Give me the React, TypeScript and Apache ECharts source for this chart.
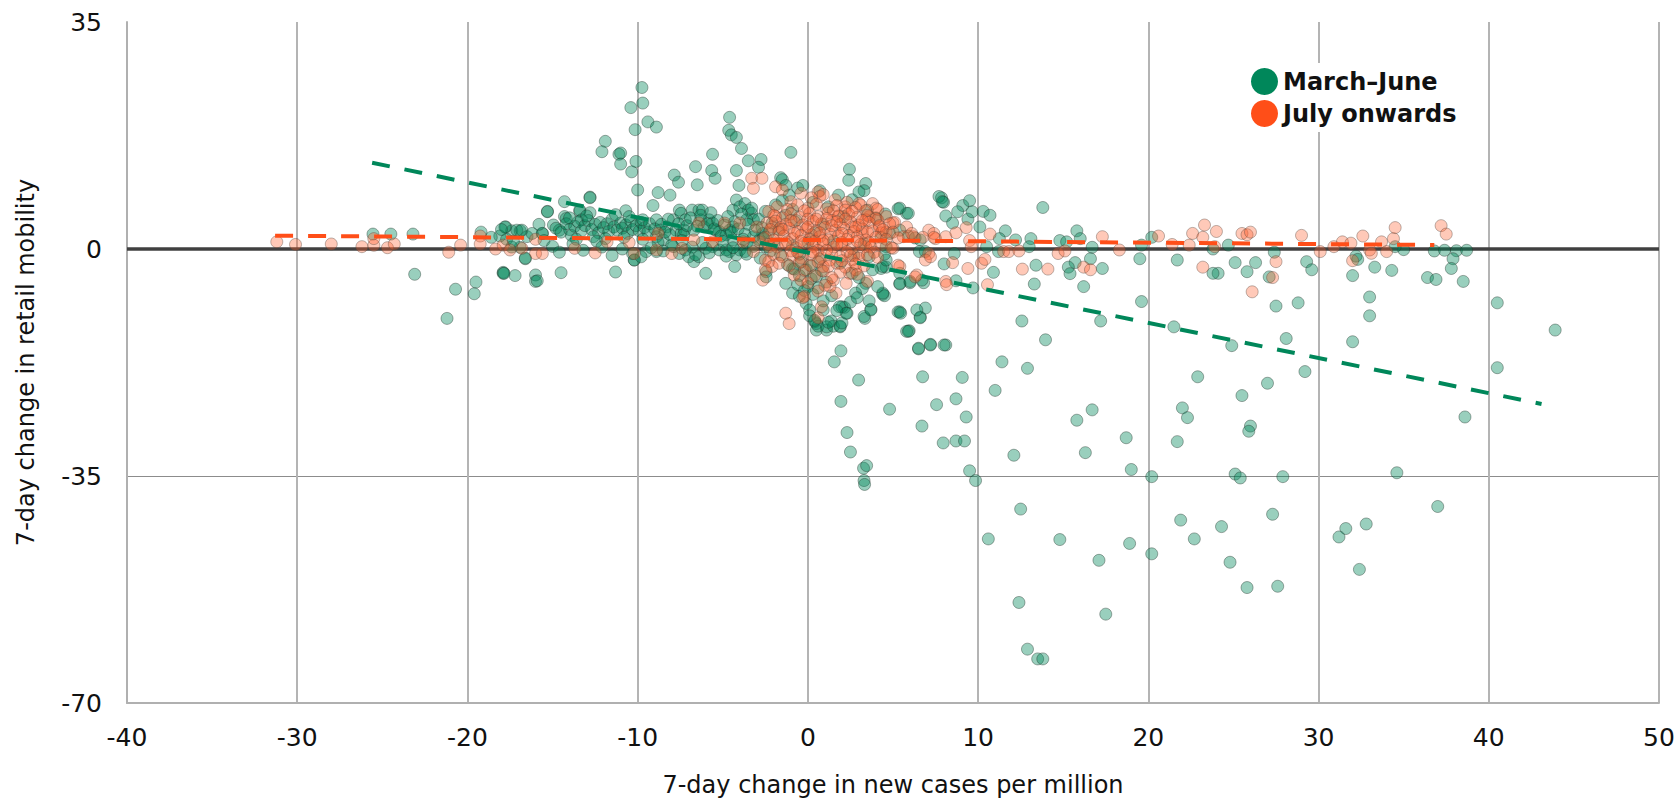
import React, { useEffect, useRef } from "react";
import * as echarts from "echarts";

// ---- Data -------------------------------------------------------------
const X_MIN = -40, X_MAX = 50, X_STEP = 10;
const Y_MIN = -70, Y_MAX = 35, Y_STEP = 35;
const SERIES_NAMES = ["March\u2013June", "July onwards"];
const X_NAME = "7-day change in new cases per million";
const Y_NAME = "7-day change in retail mobility";

// March–June points [x, y]
const GREEN_SPARSE: number[][] = [
  [12.57,-11.1],[13.96,-14.0],[17.2,-11.1],[19.6,-8.1],[21.5,-12.0],[24.9,-14.9],[27.5,-8.8],[11.4,-17.4],[12.9,-18.4],[11.0,-21.8],
  [22.9,-19.7],[27.0,-20.7],[25.5,-22.6],[22.0,-24.5],[22.3,-26.0],[26.0,-27.3],[25.9,-28.1],[21.7,-29.7],[18.7,-29.1],[16.7,-24.8],
  [15.8,-26.4],[16.3,-31.4],[12.1,-31.8],[19.0,-34.0],[20.2,-35.1],[25.1,-34.7],[25.4,-35.3],[27.9,-35.1],[9.5,-34.2],[9.85,-35.7],
  [12.5,-40.1],[10.6,-44.7],[14.8,-44.8],[18.9,-45.4],[17.1,-48.0],[20.2,-47.0],[21.9,-41.8],[22.7,-44.7],[24.3,-42.8],[27.3,-40.9],
  [24.8,-48.3],[25.8,-52.2],[27.6,-52.0],[12.4,-54.5],[17.5,-56.3],[12.9,-61.7],[13.5,-63.2],[13.8,-63.2],
  [1.94,-15.7],[1.55,-17.4],[2.98,-20.2],[1.94,-23.5],[4.8,-24.7],[2.3,-28.3],[2.5,-31.3],[3.27,-33.8],[3.45,-33.4],[3.3,-35.7],
  [3.33,-36.3],[6.7,-27.3],[7.95,-29.9],[8.7,-29.6],[9.2,-29.6],[9.3,-25.9],[8.7,-23.1],[7.56,-24.0],[6.74,-19.7],[9.07,-19.8],
  [6.5,-15.4],[7.2,-14.7],[8.1,-14.8],[5.95,-12.6],[6.6,-10.5],[6.9,-9.1],[5.3,-9.7],[3.7,-9.3],[3.35,-10.7],[2.15,-9.0],
  [2.3,-9.9],[1.9,-12.0],[1.1,-12.5],[0.5,-12.5],[1.37,-11.1],[0.4,-11.2],[0.9,-9.4],
  [28.8,-8.3],[33.0,-7.4],[33.0,-10.3],[32.0,-14.3],[28.1,-13.8],[29.2,-18.9],[40.5,-8.3],[43.9,-12.5],[40.5,-18.3],[38.6,-25.9],
  [34.6,-34.5],[37.0,-39.7],[32.8,-42.4],[31.6,-43.1],[31.2,-44.4],[32.4,-49.4],
  [26.3,-2.1],[27.4,-0.5],[27.1,-4.3],[29.3,-1.95],[29.6,-3.2],[32.2,-1.1],[32.3,-1.6],[32.0,-4.1],[33.3,-2.8],[34.3,-3.3],
  [35.0,-0.1],[34.5,0.36],[36.8,-0.3],[37.4,-0.2],[38.1,-0.26],[38.7,-0.2],[37.9,-1.5],[37.8,-3.0],[36.4,-4.4],[36.9,-4.7],[38.5,-5.0],
  [2.44,12.3],[3.4,10.1],[3.3,9.0],[5.3,6.2],[5.8,5.5],[7.85,7.9],[7.97,7.2],[9.1,6.7],[9.5,7.45],[8.8,5.75],
  [8.1,5.1],[9.4,4.6],[8.5,4.0],[9.65,5.75],[10.3,5.8],[10.7,5.2],[10.1,3.4],[11.6,2.8],[11.25,1.6],[12.2,1.4],
  [13.1,1.6],[13.0,0.36],[13.8,6.4],[15.8,2.8],[16.0,1.6],[14.8,1.3],[15.2,1.1],[16.7,0.26],[16.6,-1.5],[15.7,-2.1],
  [15.3,-2.8],[15.4,-3.8],[17.3,-3.0],[16.2,-5.8],[19.5,-1.5],[19.6,0.6],[20.2,1.8],[21.7,-1.7],[23.8,0.0],[24.1,-3.75],
  [23.8,-3.75],[25.1,-2.1],[25.8,-3.5],[24.7,0.6],[8.0,-2.3],[8.7,-4.9],[8.6,-0.7],[6.55,-0.4],[6.8,-5.2],[6.0,-5.2],
  [5.4,-5.4],[5.4,-9.7],[5.45,-9.9],[6.6,-10.6],[5.8,-12.7],[9.7,-6.0],[10.9,-3.6],[10.5,0.36],[11.2,-0.4],[13.4,-2.5],
  [13.3,-5.4],[4.55,5.4],[4.6,-2.8],[4.3,-3.0],[4.4,-7.0],[4.5,-7.2],[2.0,-8.9],
  [-25.55,2.3],[-24.5,2.3],[-23.2,2.3],[-23.1,-3.9],[-20.7,-6.2],[-19.5,-5.1],[-19.6,-6.9],[-21.2,-10.7],[-17.9,-3.6],[-17.2,-4.1],
  [-18.1,2.0],[-17.75,3.4],[-17.4,2.8],[-16.9,2.8],[-16.5,1.9],[-16.6,-1.5],[-16.0,-4.0],[-16.0,-5.0],[-16.9,0.26],
  [-14.5,-3.65],[-11.3,-3.55],[-10.2,-1.7],
];

const GREEN_UPPER: number[][] = [
  [-9.75,24.9],[-9.7,22.5],[-10.4,21.8],[-10.15,18.4],[-9.4,19.6],[-8.9,18.8],[-11.9,16.6],[-12.1,15.0],[-11.1,14.6],[-11.0,14.8],
  [-11.0,13.1],[-10.35,11.9],[-10.1,13.5],[-10.0,9.1],[-8.8,8.7],[-9.1,6.7],[-8.1,8.3],[-7.85,11.4],[-7.6,10.3],[-6.6,12.7],
  [-6.5,9.9],[-5.6,14.6],[-5.65,12.1],[-5.45,10.9],[-4.6,20.3],[-4.65,18.3],[-4.5,17.6],[-4.2,17.2],[-3.9,15.5],[-3.5,13.6],
  [-2.75,13.8],[-2.9,12.6],[-4.2,12.1],[-4.05,9.8],[-1.0,14.9],[-1.6,11.0],[-1.5,10.7],[-1.3,9.8],[-0.6,9.4],
  [-12.8,8.0],[-14.3,7.3],[-15.3,5.8],[-14.3,5.0],[-14.95,3.7],[-15.6,2.4],[-13.4,5.8],[-12.8,5.6],[-10.7,5.9],
  [-17.8,3.4],[-17.1,2.9],[-16.8,2.9],[-17.7,1.5],[-17.4,0.3],[-16.6,-1.4],[-17.9,-3.75],[-15.6,2.4],[-15.3,5.75],[-14.6,2.9],
  [-14.2,4.7],[-14.0,3.0],[-13.4,6.0],[-13.3,4.5],[-12.8,7.9],
];

const GREEN_DENSE: number[][] = [
  [-14.8,3.2],[-14.5,2.6],[-14.2,3.9],[-13.9,2.1],[-13.7,3.5],[-13.5,4.2],[-13.3,2.8],[-13.1,3.6],[-12.9,4.4],[-12.7,3.0],
  [-12.5,3.8],[-12.3,2.5],[-12.2,4.1],[-12.0,3.3],[-11.8,3.9],[-11.7,2.7],[-11.5,4.6],[-11.4,3.4],[-11.2,2.9],[-11.0,4.0],
  [-10.9,3.2],[-10.7,3.7],[-10.6,2.4],[-10.4,4.3],[-10.3,3.0],[-10.1,3.6],[-9.9,2.8],[-9.8,4.1],[-9.6,3.3],[-9.4,2.6],
  [-12.6,1.9],[-11.9,1.6],[-13.0,5.1],[-11.3,5.3],[-10.5,5.0],[-14.0,4.8],[-12.4,1.2],[-10.8,1.8],[-9.7,1.5],[-13.6,1.5],
  [-9.7,4.5],[-9.3,3.9],[-8.9,4.5],[-8.7,2.9],[-8.3,3.4],[-7.9,4.5],[-7.75,2.9],[-7.45,2.4],[-7.25,2.9],[-8.9,1.9],
  [-8.5,1.4],[-8.1,2.2],[-7.55,6.0],[-7.45,5.5],[-7.2,4.5],[-6.8,6.0],[-6.4,6.0],[-6.2,6.0],[-6.3,4.5],[-6.1,3.4],
  [-5.8,4.5],[-5.6,4.0],[-5.4,2.9],[-5.2,2.7],[-5.6,0.36],[-5.2,-0.15],[-7.9,0.36],[-7.55,-0.7],[-7.2,-0.15],[-7.0,-1.2],
  [-6.7,-1.95],[-6.4,-1.2],[-6.0,0.1],[-8.9,-0.4],[-9.5,-0.4],[-10.2,-1.7],[-10.3,-0.7],[-4.4,6.0],[-4.2,7.55],[-4.0,6.5],
  [-3.7,7.0],[-3.5,6.0],[-3.3,5.5],[-3.2,4.5],[-3.6,4.5],[-4.4,3.4],[-4.6,2.9],[-4.8,2.2],[-4.4,1.4],[-4.0,-0.15],
  [-3.7,-0.4],[-3.6,0.9],[-3.2,1.9],[-2.85,1.4],[-2.65,2.4],[-2.5,0.36],[-4.6,-0.4],[-4.2,-0.9],[-4.3,-2.7],[-4.8,-0.15],
  [-6.0,-3.75],
  [-9.0,3.1],[-8.6,3.8],[-8.4,2.6],[-8.2,4.6],[-7.6,3.9],[-7.3,2.2],[-7.1,3.6],[-6.9,4.8],[-6.7,2.9],[-6.5,3.5],
  [-6.3,5.2],[-5.9,3.9],[-5.7,5.6],[-5.5,3.1],[-5.3,4.4],[-5.1,2.0],[-4.9,3.7],[-4.7,5.0],[-4.5,2.6],[-4.3,4.2],
  [-4.1,3.1],[-3.9,5.4],[-3.7,2.3],[-3.5,3.8],[-3.3,6.3],[-3.1,2.9],[-2.9,4.6],[-2.7,3.3],[-2.5,5.8],[-2.3,2.5],
  [-2.1,4.0],[-1.9,6.8],[-1.7,3.0],[-1.5,7.5],[-1.3,5.2],[-1.1,8.3],[-0.9,6.1],[-0.7,4.4],[-8.8,1.0],[-8.0,0.6],
  [-7.4,1.3],[-6.8,0.3],[-6.2,1.0],[-5.0,1.2],[-4.4,0.2],[-3.8,1.5],[-3.2,0.4],[-2.6,1.7],[-2.0,0.8],[-9.2,0.2],
  [-8.5,-0.3],[-6.6,-0.9],[-5.8,-0.6],[-4.8,-1.1],[-3.6,-0.8],[-2.8,-1.4],[-2.2,-0.3],[-1.6,-0.9],
  [-2.45,-3.5],[-2.45,-4.3],[-1.3,-5.3],[-0.9,-3.0],[-0.5,-4.1],[-0.1,-3.2],[0.2,-4.6],[0.0,-5.8],[-0.9,-6.8],[-0.5,-7.3],
  [-0.1,-8.4],[0.1,-9.4],[0.5,-11.5],[0.6,-11.9],[1.1,-12.0],[1.5,-11.9],[1.9,-11.9],[2.0,-11.4],[1.85,-8.9],[2.25,-9.9],
  [3.3,-10.4],[3.7,-9.4],[4.4,-6.8],[5.4,-3.75],[5.4,-5.3],[6.0,-5.0],[6.7,-4.8],[6.4,-9.4],[5.9,-12.7],[6.5,-15.3],
  [7.2,-14.8],[8.0,-14.8],[4.4,-2.7],[4.6,-1.7],[3.4,-5.3],[3.2,-6.1],[2.6,-3.75],[2.8,-6.8],[3.6,-1.2],[4.6,0.36],
  [4.8,2.4],[5.4,2.9],[5.9,2.0],[6.3,1.7],[6.6,1.4],[6.9,-0.4],[5.4,6.3],[5.9,5.5],[7.7,8.1],[7.9,7.3],
  [-1.2,-2.4],[-0.8,-3.1],[-0.4,-2.0],[0.2,-2.6],[0.5,-4.2],[0.8,-3.3],[1.1,-5.1],[-0.6,-5.5],[-0.2,-6.4],[0.3,-7.0],
  [0.6,-6.0],[0.9,-8.0],[1.4,-7.2],[1.7,-9.5],[0.1,-10.3],[0.4,-11.0],[1.2,-11.3],[2.5,-8.2],[2.9,-7.5],[3.6,-8.0],
  [3.0,-4.4],[3.8,-3.2],[4.1,-5.8],[0.0,1.0],[0.4,2.5],[0.9,3.8],[1.5,1.2],[2.1,5.0],[2.6,7.6],[3.0,8.8],
  [3.5,6.0],[4.0,4.8],[1.2,6.5],[0.3,7.2],[-0.3,9.8],[0.7,9.0],[1.8,8.3],[2.4,10.6],[-0.9,0.5],[-0.5,-0.8],
  [0.7,-1.5],[1.9,-2.2],[2.7,-1.0],[3.3,0.8],[4.3,1.8],[4.5,-0.8],
  [-19.2,2.6],[-18.6,1.8],[-18.0,3.0],[-17.3,1.2],[-16.2,2.4],[-15.8,3.8],[-15.5,1.3],[-15.0,0.4],[-14.6,-0.5],[-13.2,-0.2],
  [-12.1,0.3],[-11.5,-1.0],[-10.9,0.0],[-9.8,-1.2],[-13.8,0.8],[-17.85,-3.75],[-15.9,-4.9],
];

// July onwards points [x, y]
const ORANGE_SPARSE: number[][] = [
  [-31.2,1.1],[-30.1,0.7],[-28.0,0.77],[-26.2,0.36],[-25.5,0.57],[-25.5,1.6],[-24.7,0.2],[-24.3,0.77],[-21.1,-0.5],[-20.4,0.6],
  [-19.25,2.0],[-19.25,0.77],[-18.35,0.0],[-17.9,0.6],[-17.5,-0.15],[-16.8,0.1],[-16.0,1.5],[-16.0,-0.7],
  [-15.6,-0.7],[-13.7,0.1],[-12.5,-0.6],[-11.8,1.1],[-10.5,1.0],[-10.2,-0.7],[-8.8,2.4],[-8.9,-0.15],[-8.0,-0.7],[-7.4,0.1],
  [-6.7,1.4],[-6.4,4.0],[-5.6,1.1],[-4.9,4.0],[-4.0,4.0],[-3.8,1.1],[-3.2,-0.4],[-3.0,3.4],[-2.85,1.1],[-2.3,0.36],
  [-2.1,3.4],[-1.9,5.0],[-2.3,-1.95],
  [-3.3,10.9],[-2.7,10.9],[-3.2,9.35],[-1.9,9.6],[-1.5,9.1],[0.6,8.8],[0.7,8.1],
  [3.8,7.0],[4.0,6.3],[3.6,5.0],[4.1,4.5],[4.2,3.4],[5.0,4.0],[5.8,3.4],[6.2,1.9],[7.1,2.9],[7.5,1.6],
  [8.1,1.9],[5.6,1.9],[3.4,4.5],[3.0,7.0],[2.2,6.5],[1.8,5.0],[2.6,3.4],[3.2,2.4],[3.4,0.36],[3.0,-0.7],
  [2.6,-1.7],[2.45,-3.75],[2.25,-5.3],[2.8,-3.2],[1.65,-6.8],[1.3,-5.8],[0.9,-2.7],[1.3,-1.7],[1.5,-4.8],[3.5,-5.0],
  [5.4,-2.7],[6.4,-4.0],[7.1,-0.7],[6.9,-1.7],[-1.3,-9.9],[-1.1,-11.5],[-2.5,-1.7],[-2.1,-2.7],[-2.5,-3.2],[-2.65,-4.8],
  [-0.2,-7.3],[-0.4,-4.8],[0.8,-8.9],[0.6,-10.6],
  [5.1,4.1],[6.1,2.4],[6.75,1.8],[7.4,2.4],[7.4,1.8],[8.7,2.5],[9.3,3.3],[9.5,1.3],[9.6,0.36],[10.7,2.3],
  [10.2,-2.2],[10.4,-1.6],[9.4,-3.0],[10.55,-5.5],[11.5,-0.4],[11.8,-0.4],[12.4,-0.3],[12.6,-3.1],[14.1,-3.1],[14.7,-0.7],
  [15.1,-0.3],[16.2,-2.8],[16.6,-3.2],[17.3,1.9],[18.3,-0.15],[20.6,2.0],[21.4,0.7],[22.6,2.4],[23.3,3.7],[23.2,-2.8],
  [23.2,1.8],[24.0,2.7],[25.5,2.4],[25.8,2.2],[26.1,-6.6],[22.4,0.6],[23.9,0.36],[8.1,-5.0],[8.15,-5.5],[7.2,-1.2],
  [8.5,-2.1],[5.0,0.1],[5.3,-2.5],[6.3,-4.3],[4.3,2.5],[4.6,2.6],
  [29.0,2.1],[27.5,-1.95],[27.3,-4.4],[26.0,2.6],[30.1,-0.4],[30.9,0.36],[31.4,1.1],[31.9,0.9],[32.6,2.0],[33.0,-0.15],
  [33.1,-0.67],[32.0,-1.8],[33.7,1.1],[34.4,1.6],[34.5,3.3],[34.0,-0.4],[37.2,3.6],[37.5,2.3],
];

const ORANGE_DENSE: number[][] = [
  [-0.4,8.6],[0.2,7.9],[0.9,8.4],[1.6,7.6],[-1.0,7.3],[2.3,7.2],[3.1,6.8],
  [-1.8,6.5],[-1.2,6.1],[-0.6,6.8],[0.0,6.3],[0.5,6.9],[1.1,6.2],[1.7,6.7],[2.2,6.0],[2.8,6.4],[3.4,5.9],[4.1,6.1],[-2.3,5.8],
  [-2.0,5.2],[-1.5,4.8],[-1.0,5.4],[-0.5,4.9],[0.1,5.5],[0.6,5.0],[1.2,5.6],[1.8,5.1],[2.4,5.4],[2.9,4.9],
  [3.5,5.2],[4.0,4.7],[4.6,5.0],[-0.2,5.9],[1.5,5.9],[2.6,5.8],
  [-2.4,4.0],[-1.9,4.3],[-1.3,3.8],[-0.8,4.2],[-0.3,3.7],[0.3,4.3],[0.8,3.9],[1.4,4.4],[1.9,3.8],[2.5,4.2],
  [3.0,3.7],[3.6,4.1],[4.2,3.6],[4.8,3.9],[-1.6,3.3],[0.0,4.6],[1.1,4.7],[2.2,4.6],
  [-2.2,3.0],[-1.7,2.6],[-1.1,3.2],[-0.6,2.7],[-0.1,3.1],[0.5,2.8],[1.0,3.3],[1.6,2.9],[2.1,3.2],[2.7,2.7],
  [3.2,3.1],[3.8,2.8],[4.4,3.0],[5.0,2.6],[0.2,2.2],[1.3,2.3],[2.4,2.1],
  [-2.5,1.8],[-2.0,1.4],[-1.4,2.0],[-0.9,1.6],[-0.4,2.1],[0.1,1.5],[0.7,1.9],[1.2,1.4],[1.8,2.0],[2.3,1.5],
  [2.9,1.9],[3.4,1.4],[4.0,1.8],[4.6,1.5],[5.3,1.7],[-1.2,1.1],[0.4,1.2],[2.0,1.0],[3.6,1.0],
  [-2.3,0.7],[-1.8,0.3],[-1.3,0.8],[-0.7,0.2],[-0.2,0.9],[0.3,0.4],[0.9,0.8],[1.5,0.3],[2.0,0.6],[2.6,0.1],
  [3.1,0.7],[3.7,0.3],[4.3,0.6],[4.9,0.2],[-1.0,-0.3],[0.6,-0.2],[2.3,-0.4],[3.9,-0.5],
  [-2.0,-0.8],[-1.5,-1.2],[-0.9,-1.0],[-0.4,-1.4],[0.2,-0.9],[0.8,-1.3],[1.4,-0.8],[1.9,-1.2],[2.5,-1.0],[3.0,-1.4],
  [3.5,-0.9],[4.1,-1.3],
  [-1.7,-2.2],[-1.1,-2.6],[-0.5,-2.1],[0.1,-2.5],[0.6,-2.0],[1.2,-2.7],[1.7,-2.2],[2.2,-2.8],[2.8,-2.3],[3.3,-2.6],
  [-0.2,-3.3],[0.9,-3.4],[1.9,-3.6],[2.9,-3.9],[0.4,-4.1],[1.4,-4.4],[-0.8,-4.0],[0.0,-5.2],[1.0,-5.6],[0.6,-6.5],
  [-0.3,-7.5],
  [-1.5,3.0],[-0.8,2.4],[0.0,3.4],[0.7,2.5],[1.4,3.6],[2.0,2.4],[2.8,3.4],[3.5,2.6],[-1.0,4.4],[0.5,4.6],
  [1.7,4.2],[3.2,4.4],[-0.4,1.2],[0.9,1.3],[1.7,0.7],[2.9,1.2],[0.3,-0.5],[1.1,-0.2],[2.0,-1.8],[-0.6,-0.5],
];

const GREEN_TREND: number[][] = [[-25.6, 13.3], [43.1, -23.9]];
const ORANGE_TREND: number[][] = [[-31.3, 2.06], [36.8, 0.62]];
const ZERO_LINE: number[][] = [[X_MIN, 0], [X_MAX, 0]];

// ---- Chart ------------------------------------------------------------
const FONT = "DejaVu Sans";

export default function App() {
  const ref = useRef<HTMLDivElement>(null);

  useEffect(() => {
    if (!ref.current) return;
    const chart = echarts.init(ref.current, null, { renderer: "svg" });
    const green = [...GREEN_SPARSE, ...GREEN_UPPER, ...GREEN_DENSE];
    const orange = [...ORANGE_SPARSE, ...ORANGE_DENSE];

    chart.setOption({
      animation: false,
      backgroundColor: "#ffffff",
      grid: {
        left: 127, right: 19, top: 22, bottom: 98,
        containLabel: false,
        outerBoundsMode: "none",
      },
      legend: {
        data: [
          { name: SERIES_NAMES[0], itemStyle: { color: "#00875a", borderColor: "#00875a", borderWidth: 0, opacity: 1 } },
          { name: SERIES_NAMES[1], itemStyle: { color: "#ff4e18", borderColor: "#ff4e18", borderWidth: 0, opacity: 1 } },
        ],
        orient: "vertical",
        left: 1241,
        top: 63,
        icon: "circle",
        itemWidth: 27,
        itemHeight: 27,
        itemGap: 5,
        padding: [5, 12, 5, 10],
        backgroundColor: "#ffffff",
        textStyle: { fontFamily: FONT, fontWeight: "bold", fontSize: 24, color: "#111111" },
      },
      xAxis: {
        type: "value",
        min: X_MIN,
        max: X_MAX,
        interval: X_STEP,
        name: X_NAME,
        nameLocation: "middle",
        nameGap: 70,
        nameTextStyle: { fontFamily: FONT, fontSize: 24, color: "#111111" },
        axisLine: { show: true, onZero: false, lineStyle: { color: "#b0b0b0", width: 2 } },
        axisTick: { show: false },
        axisLabel: { margin: 22, fontFamily: FONT, fontSize: 25, color: "#111111" },
        splitLine: { show: true, lineStyle: { color: "#b4b4b4", width: 2 } },
      },
      yAxis: {
        type: "value",
        min: Y_MIN,
        max: Y_MAX,
        interval: Y_STEP,
        name: Y_NAME,
        nameLocation: "middle",
        nameGap: 89,
        nameTextStyle: { fontFamily: FONT, fontSize: 24, color: "#111111" },
        axisLine: { show: true, onZero: false, lineStyle: { color: "#b0b0b0", width: 2 } },
        axisTick: { show: false },
        axisLabel: { margin: 25, fontFamily: FONT, fontSize: 25, color: "#111111" },
        splitLine: { show: true, showMaxLine: false, lineStyle: { color: "#8c8c8c", width: 1.2 } },
      },
      series: [
        {
          name: "zero",
          type: "line",
          data: ZERO_LINE,
          symbol: "none",
          silent: true,
          z: 1,
          lineStyle: { color: "#404040", width: 3.5 },
        },
        {
          name: SERIES_NAMES[0],
          type: "scatter",
          data: green,
          symbol: "circle",
          symbolSize: 12,
          z: 2,
          itemStyle: {
            color: "rgba(0,135,90,0.5)",
            borderColor: "rgba(30,50,40,0.5)",
            borderWidth: 1,
          },
        },
        {
          name: SERIES_NAMES[1],
          type: "scatter",
          data: orange,
          symbol: "circle",
          symbolSize: 12,
          z: 3,
          itemStyle: {
            color: "rgba(255,95,45,0.42)",
            borderColor: "rgba(90,70,60,0.5)",
            borderWidth: 1,
          },
        },
        {
          name: "trend-green",
          type: "line",
          data: GREEN_TREND,
          symbol: "none",
          silent: true,
          z: 4,
          lineStyle: { color: "#00875a", width: 4, type: [18, 15] },
        },
        {
          name: "trend-orange",
          type: "line",
          data: ORANGE_TREND,
          symbol: "none",
          silent: true,
          z: 5,
          lineStyle: { color: "#ff4e18", width: 4, type: [18, 15] },
        },
      ],
    });

    return () => chart.dispose();
  }, []);

  return (
    <div
      ref={ref}
      style={{ position: "absolute", left: 0, top: 0, width: 1678, height: 801 }}
    />
  );
}
